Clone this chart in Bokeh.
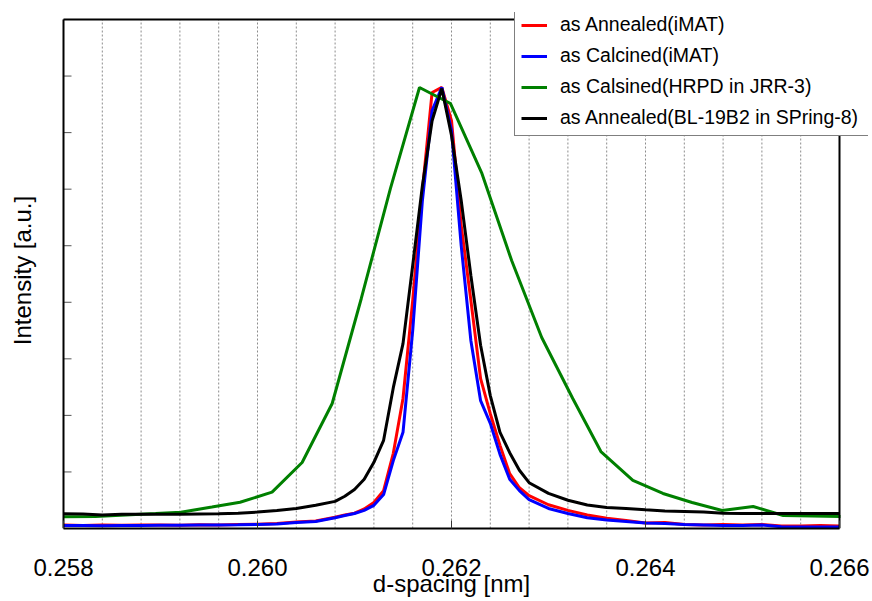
from bokeh.plotting import figure
from bokeh.models import Range1d, FixedTicker, Legend, LegendItem, PrintfTickFormatter
from bokeh.embed import file_html
from bokeh.resources import INLINE

# ---------------- data ----------------
# common d-spacing grid (nm) for iMAT and SPring-8 data
d_imat = [0.2580, 0.2582, 0.2584, 0.2586, 0.2588, 0.2590, 0.2592, 0.2594, 0.2596, 0.2598,
          0.2600, 0.2602, 0.2604, 0.2606, 0.2608, 0.2609, 0.2610, 0.2611, 0.2612, 0.2613,
          0.2614, 0.2615, 0.2616, 0.2617, 0.2618, 0.2619, 0.2620, 0.2621, 0.2622, 0.2623,
          0.2624, 0.2625, 0.2626, 0.2627, 0.2628, 0.2630, 0.2632, 0.2634, 0.2636, 0.2638,
          0.2640, 0.2642, 0.2644, 0.2646, 0.2648, 0.2650, 0.2652, 0.2654, 0.2656, 0.2658,
          0.2660]
annealed_imat = [0.062, 0.053, 0.062, 0.057, 0.062, 0.062, 0.058, 0.067, 0.062, 0.070,
                 0.074, 0.088, 0.115, 0.133, 0.200, 0.240, 0.270, 0.345, 0.460, 0.670,
                 1.330, 2.300, 4.030, 5.980, 7.710, 7.800, 7.210, 5.360, 4.030, 2.650,
                 2.030, 1.470, 0.970, 0.720, 0.580, 0.420, 0.320, 0.240, 0.180, 0.140,
                 0.097, 0.106, 0.070, 0.062, 0.070, 0.062, 0.070, 0.044, 0.044, 0.053,
                 0.044]
calcined_imat = [0.053, 0.053, 0.048, 0.053, 0.053, 0.057, 0.058, 0.062, 0.062, 0.065,
                 0.070, 0.080, 0.106, 0.124, 0.190, 0.230, 0.265, 0.320, 0.410, 0.600,
                 1.200, 1.700, 3.500, 5.800, 7.390, 7.800, 7.040, 5.000, 3.320, 2.260,
                 1.860, 1.310, 0.870, 0.670, 0.510, 0.354, 0.265, 0.190, 0.150, 0.124,
                 0.097, 0.088, 0.070, 0.062, 0.053, 0.053, 0.062, 0.030, 0.027, 0.027,
                 0.027]
d_spring8 = d_imat
annealed_spring8 = [0.260, 0.256, 0.240, 0.250, 0.250, 0.250, 0.250, 0.256, 0.260, 0.270,
                    0.290, 0.320, 0.354, 0.410, 0.480, 0.570, 0.690, 0.870, 1.170, 1.560,
                    2.490, 3.270, 4.650, 6.060, 7.210, 7.780, 6.950, 5.800, 4.470, 3.240,
                    2.350, 1.700, 1.340, 1.030, 0.810, 0.620, 0.500, 0.415, 0.370, 0.354,
                    0.330, 0.310, 0.300, 0.290, 0.270, 0.265, 0.265, 0.265, 0.265, 0.265,
                    0.265]
# HRPD in JRR-3 (coarser sampling)
d_hrpd = [0.25800, 0.25833, 0.25864, 0.25895, 0.25921, 0.25953, 0.25982, 0.26015, 0.26046,
          0.26077, 0.26107, 0.26137, 0.26167, 0.26199, 0.26231, 0.26262, 0.26293, 0.26325,
          0.26354, 0.26387, 0.26418, 0.26448, 0.26479, 0.26511, 0.26542, 0.26572, 0.26601]
calsined_hrpd = [0.207, 0.212, 0.239, 0.265, 0.288, 0.380, 0.465, 0.642, 1.167,
                 2.210, 4.067, 6.011, 7.797, 7.514, 6.294, 4.738, 3.377, 2.298,
                 1.361, 0.849, 0.619, 0.460, 0.318, 0.389, 0.230, 0.221, 0.212]

series_labels = ["as Annealed(iMAT)", "as Calcined(iMAT)",
                 "as Calsined(HRPD in JRR-3)", "as Annealed(BL-19B2 in SPring-8)"]
x_tick_values = [0.258, 0.260, 0.262, 0.264, 0.266]
x_grid_values = [round(0.258 + 0.0004 * i, 4) for i in range(21)]
y_tick_values = [1, 2, 3, 4, 5, 6, 7, 8]

# axes box limits (data units)
X_MIN, X_MAX = 0.258, 0.266
Y_MIN, Y_MAX = 0.0, 9.0

# ---------------- layout / style ----------------
FONT = "Liberation Sans"
W, H = 872, 601
BOX_L, BOX_R, BOX_T, BOX_B = 63, 839, 19, 528   # visible axes box (px)
FR_L, FR_R, FR_T = 34, 868, 12                  # plotting frame (px), wider for legend
px_per_x = (BOX_R - BOX_L) / (X_MAX - X_MIN)
px_per_y = (BOX_B - BOX_T) / (Y_MAX - Y_MIN)
x_view_start = X_MIN - (BOX_L - FR_L) / px_per_x
x_view_end = X_MIN + (FR_R - BOX_L) / px_per_x
y_view_end = Y_MIN + (BOX_B - FR_T) / px_per_y
tick_len_x = 8 / px_per_x

p = figure(width=W, height=H, output_backend="svg", toolbar_location=None,
           x_range=Range1d(x_view_start, x_view_end), y_range=Range1d(Y_MIN, y_view_end),
           min_border_left=FR_L, min_border_right=W - FR_R, min_border_top=FR_T,
           min_border_bottom=H - BOX_B)
p.background_fill_color = "white"
p.border_fill_color = "white"
p.outline_line_color = None
p.xgrid.visible = False
p.ygrid.visible = False

# vertical dashed grid lines inside the axes box
n_grid = len(x_grid_values)
p.segment(x0=x_grid_values, y0=[Y_MIN] * n_grid, x1=x_grid_values, y1=[Y_MAX] * n_grid,
          line_color="#8c8c8c", line_width=1, line_dash="2 2")

r1 = p.line(d_imat, annealed_imat, line_color="#ff0000", line_width=3)
r2 = p.line(d_imat, calcined_imat, line_color="#0000ff", line_width=3)
r3 = p.line(d_hrpd, calsined_hrpd, line_color="#008000", line_width=3)
r4 = p.line(d_spring8, annealed_spring8, line_color="#000000", line_width=3)

# inward y ticks on the left edge
n_yt = len(y_tick_values)
p.segment(x0=[X_MIN] * n_yt, y0=y_tick_values, x1=[X_MIN + tick_len_x] * n_yt,
          y1=y_tick_values, line_color="#555555", line_width=1)

# left, top and right edges of the axes box
p.segment(x0=[X_MIN, X_MIN, X_MAX], y0=[Y_MIN, Y_MAX, Y_MIN],
          x1=[X_MIN, X_MAX, X_MAX], y1=[Y_MAX, Y_MAX, Y_MAX],
          line_color="black", line_width=2)

# x axis
xa = p.xaxis[0]
xa.bounds = (X_MIN, X_MAX)
xa.ticker = FixedTicker(ticks=x_tick_values)
xa.formatter = PrintfTickFormatter(format="%.3f")
xa.major_tick_in = 8
xa.major_tick_out = 0
xa.minor_tick_line_color = None
xa.major_tick_line_color = "#333333"
xa.axis_line_color = "black"
xa.axis_line_width = 2
xa.major_label_text_font = FONT
xa.major_label_text_font_size = "24px"
xa.major_label_text_color = "black"
xa.major_label_standoff = 30
xa.axis_label = "d-spacing [nm]"
xa.axis_label_text_font = FONT
xa.axis_label_text_font_size = "24px"
xa.axis_label_text_font_style = "normal"
xa.axis_label_text_color = "black"
xa.axis_label_standoff = -9

# y axis (label only; its line and ticks are drawn on the box edge above)
ya = p.yaxis[0]
ya.ticker = FixedTicker(ticks=[])
ya.major_tick_in = 0
ya.major_tick_out = 0
ya.minor_tick_line_color = None
ya.axis_line_color = None
ya.major_label_standoff = 0
ya.axis_label = "Intensity [a.u.]"
ya.axis_label_text_font = FONT
ya.axis_label_text_font_size = "24px"
ya.axis_label_text_font_style = "normal"
ya.axis_label_text_color = "black"
ya.axis_label_standoff = -1

legend = Legend(items=[LegendItem(label=series_labels[0], renderers=[r1]),
                       LegendItem(label=series_labels[1], renderers=[r2]),
                       LegendItem(label=series_labels[2], renderers=[r3]),
                       LegendItem(label=series_labels[3], renderers=[r4])],
                location=(514 - FR_L, BOX_B - 136))
legend.label_text_font = FONT
legend.label_text_font_size = "19.5px"
legend.label_text_color = "black"
legend.glyph_width = 26
legend.glyph_height = 22
legend.label_height = 22
legend.label_width = 303
legend.label_standoff = 13
legend.padding = 6
legend.spacing = 8
legend.margin = 0
legend.border_line_color = "black"
legend.border_line_width = 1
legend.background_fill_color = "white"
legend.background_fill_alpha = 1
p.add_layout(legend)

open("out.html", "w").write(file_html(p, INLINE))
